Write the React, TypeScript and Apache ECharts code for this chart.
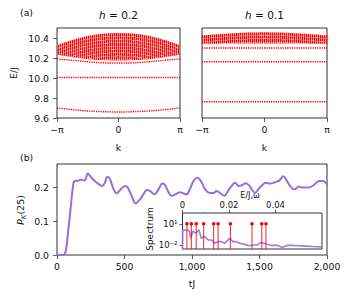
import React, { useEffect, useRef } from "react";
import * as echarts from "echarts";

const PI = Math.PI;

// ---- panel (a): band structure, k in units of pi ----
const kFrac = [-1, -0.875, -0.75, -0.625, -0.5, -0.375, -0.25, -0.125, 0, 0.125, 0.25, 0.375, 0.5, 0.625, 0.75, 0.875, 1];

// h = 0.2
const bandUpper02 = [10.326, 10.355, 10.38, 10.402, 10.42, 10.433, 10.443, 10.448, 10.45, 10.448, 10.443, 10.433, 10.42, 10.402, 10.38, 10.355, 10.326];
const bandLower02 = [10.233, 10.22, 10.208, 10.197, 10.188, 10.182, 10.178, 10.176, 10.175, 10.176, 10.178, 10.182, 10.188, 10.197, 10.208, 10.22, 10.233];
const levelA02 = [10.19, 10.184, 10.177, 10.17, 10.162, 10.156, 10.152, 10.15, 10.15, 10.15, 10.152, 10.156, 10.162, 10.17, 10.177, 10.184, 10.19];
const levelB02 = [10.005, 10.005, 10.005, 10.005, 10.005, 10.005, 10.005, 10.005, 10.005, 10.005, 10.005, 10.005, 10.005, 10.005, 10.005, 10.005, 10.005];
const levelC02 = [9.7, 9.692, 9.683, 9.676, 9.67, 9.666, 9.663, 9.661, 9.66, 9.661, 9.663, 9.666, 9.67, 9.676, 9.683, 9.692, 9.7];

// h = 0.1
const bandUpper01 = [10.426, 10.432, 10.438, 10.443, 10.448, 10.452, 10.455, 10.456, 10.457, 10.456, 10.455, 10.452, 10.448, 10.443, 10.438, 10.432, 10.426];
const bandLower01 = [10.343, 10.343, 10.343, 10.343, 10.344, 10.344, 10.344, 10.344, 10.344, 10.344, 10.344, 10.344, 10.344, 10.343, 10.343, 10.343, 10.343];
const levelA01 = [10.3, 10.3, 10.3, 10.3, 10.3, 10.3, 10.3, 10.3, 10.3, 10.3, 10.3, 10.3, 10.3, 10.3, 10.3, 10.3, 10.3];
const levelB01 = [10.163, 10.163, 10.163, 10.163, 10.163, 10.163, 10.163, 10.163, 10.163, 10.163, 10.163, 10.163, 10.163, 10.163, 10.163, 10.163, 10.163];
const levelC01 = [9.763, 9.763, 9.763, 9.763, 9.763, 9.763, 9.763, 9.763, 9.763, 9.763, 9.763, 9.763, 9.763, 9.763, 9.763, 9.763, 9.763];

const energyTicks = [9.6, 9.8, 10.0, 10.2, 10.4];

// ---- panel (b): P_K(25) vs tJ ----
const tValues = [0, 45, 60, 72, 84, 96, 106, 116, 128, 160, 180, 197, 212, 228, 246, 270, 306, 333, 352, 373, 393, 417, 442, 467, 504, 524, 548, 583, 615, 640, 664, 689, 721, 750, 780, 800, 825, 849, 879, 911, 935, 960, 985, 1010, 1040, 1072, 1100, 1133, 1158, 1183, 1210, 1240, 1270, 1300, 1320, 1345, 1370, 1395, 1420, 1442, 1467, 1495, 1520, 1545, 1580, 1615, 1650, 1676, 1700, 1735, 1763, 1790, 1815, 1862, 1900, 1936, 1965, 2000];
const pValues = [0, 0, 0.005, 0.03, 0.075, 0.12, 0.16, 0.195, 0.219, 0.221, 0.224, 0.221, 0.225, 0.242, 0.234, 0.223, 0.211, 0.205, 0.212, 0.232, 0.225, 0.197, 0.183, 0.193, 0.205, 0.2, 0.18, 0.153, 0.165, 0.18, 0.193, 0.19, 0.18, 0.193, 0.212, 0.208, 0.187, 0.175, 0.18, 0.186, 0.183, 0.18, 0.196, 0.219, 0.229, 0.215, 0.193, 0.184, 0.184, 0.19, 0.183, 0.176, 0.192, 0.208, 0.214, 0.205, 0.207, 0.213, 0.208, 0.195, 0.184, 0.197, 0.207, 0.214, 0.212, 0.216, 0.222, 0.234, 0.222, 0.2, 0.195, 0.203, 0.2, 0.2, 0.207, 0.219, 0.22, 0.21];
const tTicks = [0, 500, 1000, 1500, 2000];
const pTicks = [0, 0.1, 0.2];

// ---- inset: spectrum (log10 of value) ----
const omegaValues = [0, 0.0001, 0.0009, 0.002, 0.0031, 0.0035, 0.0045, 0.0059, 0.007, 0.0081, 0.0095, 0.011, 0.0124, 0.0138, 0.0153, 0.0167, 0.0181, 0.0196, 0.0203, 0.0217, 0.0231, 0.0246, 0.0267, 0.0289, 0.0303, 0.032, 0.0335, 0.035, 0.038, 0.041, 0.0427, 0.045, 0.047, 0.05, 0.053, 0.056, 0.06];
const spectrumLog10 = [-3, 0.19, 0.1, 0.1, -0.05, -1.0, -0.05, -0.3, 0.19, -1.0, -0.76, -1.24, -1.24, -1.71, -1.48, -1.48, -1.71, -1.24, -1.0, -1.48, -1.48, -1.71, -1.86, -2.05, -1.95, -1.95, -1.62, -1.7, -2.0, -2.0, -2.3, -2.0, -2.0, -2.05, -2.1, -2.15, -2.2];
const levelEnergies = [0.0019, 0.0038, 0.0059, 0.0091, 0.0134, 0.0153, 0.0206, 0.0299, 0.0341, 0.0359];
const levelMarkLog10 = [1, 1, 1, 1, 1, 1, 1, 1, 1, 1];
const omegaTicks = [0, 0.02, 0.04];
const spectrumTicks = [-2, 1];

const RED = "#ff0000";
const PURPLE = "#9370db";
const FRAME = "#333333";
const FONT = "DejaVu Sans";

const kRad = kFrac.map((f) => f * PI);
const zip = (xs: number[], ys: number[]) => xs.map((x, i) => [x, ys[i]]);

function bandSeries(idx: number, lo: number[], hi: number[]) {
  return {
    type: "custom",
    xAxisIndex: idx,
    yAxisIndex: idx,
    data: kRad.map((k, i) => [k, lo[i], hi[i]]),
    encode: { x: 0, y: [1, 2] },
    renderItem: (params: any, api: any) => {
      const i = params.dataIndex;
      if (i >= kRad.length - 1) return null;
      const a = api.coord([kRad[i], hi[i]]);
      const b = api.coord([kRad[i + 1], hi[i + 1]]);
      const c = api.coord([kRad[i + 1], lo[i + 1]]);
      const d = api.coord([kRad[i], lo[i]]);
      const x0 = a[0];
      const x1 = b[0];
      const pitch = 2;
      const children: any[] = [];
      const last = i === kRad.length - 2;
      let p = Math.ceil((x0 - 0.5) / pitch) * pitch + 0.5;
      while (p < x1 || (last && p <= x1 + 0.01)) {
        const t = Math.min(1, Math.max(0, (p - x0) / (x1 - x0)));
        const yt = a[1] + (b[1] - a[1]) * t;
        const yb = d[1] + (c[1] - d[1]) * t;
        children.push({
          type: "line",
          shape: { x1: p, y1: yt, x2: p, y2: yb },
          style: { stroke: RED, lineWidth: 1.5, lineDash: [3, 0.3] },
        });
        p += pitch;
      }
      return { type: "group", children };
    },
  };
}

function levelSeries(idx: number, ys: number[]) {
  return {
    type: "line",
    xAxisIndex: idx,
    yAxisIndex: idx,
    data: zip(kRad, ys),
    symbol: "none",
    smooth: true,
    lineStyle: { color: RED, width: 1.4, type: [1.3, 1.0] },
  };
}

const piLabel = (v: number) => (Math.abs(v) < 1e-9 ? "0" : v < 0 ? "−π" : "π");

function kAxis(idx: number) {
  return {
    gridIndex: idx,
    type: "value",
    min: -PI,
    max: PI,
    axisLine: { show: false, onZero: false },
    splitLine: { show: false },
    axisTick: { show: true, length: 4, customValues: [-PI, 0, PI], lineStyle: { color: FRAME, width: 0.8 } },
    axisLabel: { customValues: [-PI, 0, PI], formatter: piLabel, fontSize: 9.3, color: "#111", margin: 7, fontFamily: FONT },
  };
}

function eAxis(idx: number, labels: boolean) {
  return {
    gridIndex: idx,
    type: "value",
    min: 9.6,
    max: 10.5,
    axisLine: { show: false, onZero: false },
    splitLine: { show: false },
    axisTick: { show: labels, length: 4, customValues: energyTicks, lineStyle: { color: FRAME, width: 0.8 } },
    axisLabel: { show: labels, customValues: energyTicks, formatter: (v: number) => v.toFixed(1), fontSize: 9.3, color: "#111", margin: 8, fontFamily: FONT },
  };
}

export default function App() {
  const ref = useRef<HTMLDivElement>(null);
  useEffect(() => {
    if (!ref.current) return;
    const chart = echarts.init(ref.current, undefined, { renderer: "svg" });
    const gridBase = { show: true, borderColor: FRAME, borderWidth: 1, backgroundColor: "#fff", containLabel: false };
    const option: any = {
      animation: false,
      textStyle: { fontFamily: FONT },
      grid: [
        { ...gridBase, left: 57, top: 28, width: 123, height: 90 },
        { ...gridBase, left: 202, top: 28, width: 125, height: 90 },
        { ...gridBase, left: 57, top: 164, width: 270, height: 91 },
        { ...gridBase, left: 182.5, top: 213, width: 139.5, height: 36, z: 5 },
      ],
      xAxis: [
        kAxis(0),
        kAxis(1),
        {
          gridIndex: 2,
          type: "value",
          min: 0,
          max: 2000,
          interval: 500,
          axisLine: { show: false, onZero: false },
          splitLine: { show: false },
          axisTick: { show: true, length: 4, customValues: tTicks, lineStyle: { color: FRAME, width: 0.8 } },
          axisLabel: { customValues: tTicks, fontSize: 9.3, color: "#111", margin: 7, fontFamily: FONT },
        },
        {
          gridIndex: 3,
          type: "value",
          position: "top",
          min: 0,
          max: 0.06,
          axisLine: { show: false, onZero: false },
          splitLine: { show: false },
          axisTick: { show: true, length: 3, customValues: omegaTicks, lineStyle: { color: FRAME, width: 0.8 } },
          axisLabel: {
            customValues: omegaTicks,
            formatter: (v: number) => (v === 0 ? "0" : v.toFixed(2)),
            fontSize: 8.5,
            color: "#111",
            margin: 4,
            fontFamily: FONT,
          },
        },
      ],
      yAxis: [
        eAxis(0, true),
        eAxis(1, false),
        {
          gridIndex: 2,
          type: "value",
          min: 0,
          max: 0.27,
          axisLine: { show: false, onZero: false },
          splitLine: { show: false },
          axisTick: { show: true, length: 4, customValues: pTicks, lineStyle: { color: FRAME, width: 0.8 } },
          axisLabel: { customValues: pTicks, formatter: (v: number) => v.toFixed(1), fontSize: 9.3, color: "#111", margin: 8, fontFamily: FONT },
        },
        {
          gridIndex: 3,
          type: "value",
          min: -2.5,
          max: 2.5,
          axisLine: { show: false, onZero: false },
          splitLine: { show: false },
          axisTick: { show: true, length: 3, customValues: spectrumTicks, lineStyle: { color: FRAME, width: 0.8 } },
          axisLabel: {
            customValues: spectrumTicks,
            formatter: (v: number) => (v === 1 ? "10¹" : "10⁻²"),
            fontSize: 8.5,
            color: "#111",
            margin: 5,
            fontFamily: FONT,
          },
        },
      ],
      series: [
        bandSeries(0, bandLower02, bandUpper02),
        levelSeries(0, levelA02),
        levelSeries(0, levelB02),
        levelSeries(0, levelC02),
        bandSeries(1, bandLower01, bandUpper01),
        levelSeries(1, levelA01),
        levelSeries(1, levelB01),
        levelSeries(1, levelC01),
        {
          type: "line",
          xAxisIndex: 2,
          yAxisIndex: 2,
          data: zip(tValues, pValues),
          symbol: "none",
          smooth: 0.35,
          lineStyle: { color: PURPLE, width: 2 },
        },
        {
          type: "line",
          xAxisIndex: 3,
          yAxisIndex: 3,
          data: zip(omegaValues, spectrumLog10),
          symbol: "none",
          clip: true,
          z: 6,
          lineStyle: { color: PURPLE, width: 1.6, opacity: 0.9 },
        },
        {
          type: "custom",
          xAxisIndex: 3,
          yAxisIndex: 3,
          z: 7,
          data: zip(levelEnergies, levelMarkLog10),
          encode: { x: 0, y: 1 },
          renderItem: (params: any, api: any) => {
            const x = api.value(0);
            const y = api.value(1);
            const top = api.coord([x, y]);
            const bottom = api.coord([x, -2.5]);
            return {
              type: "group",
              children: [
                { type: "line", shape: { x1: top[0], y1: top[1], x2: bottom[0], y2: bottom[1] }, style: { stroke: RED, lineWidth: 1, opacity: 0.85 } },
                { type: "circle", shape: { cx: top[0], cy: top[1], r: 1.8 }, style: { fill: RED } },
              ],
            };
          },
        },
      ],
      graphic: [
        { type: "text", x: 20, y: 12, style: { text: "(a)", fontSize: 9.3, fill: "#111", fontFamily: FONT, align: "left", verticalAlign: "middle" } },
        {
          type: "text",
          x: 118.5,
          y: 15,
          style: {
            text: "{i|h} = 0.2",
            fontSize: 10.5,
            fill: "#111",
            fontFamily: FONT,
            align: "center",
            verticalAlign: "middle",
            rich: { i: { fontStyle: "italic", fontSize: 10.5, fontFamily: FONT, fill: "#111" } },
          },
        },
        {
          type: "text",
          x: 264.5,
          y: 15,
          style: {
            text: "{i|h} = 0.1",
            fontSize: 10.5,
            fill: "#111",
            fontFamily: FONT,
            align: "center",
            verticalAlign: "middle",
            rich: { i: { fontStyle: "italic", fontSize: 10.5, fontFamily: FONT, fill: "#111" } },
          },
        },
        { type: "text", x: 118.5, y: 147, style: { text: "k", fontSize: 9.3, fill: "#111", fontFamily: FONT, align: "center", verticalAlign: "middle" } },
        { type: "text", x: 264.5, y: 147, style: { text: "k", fontSize: 9.3, fill: "#111", fontFamily: FONT, align: "center", verticalAlign: "middle" } },
        { type: "text", x: 13, y: 73, rotation: PI / 2, style: { text: "E/J", fontSize: 9.3, fill: "#111", fontFamily: FONT, align: "center", verticalAlign: "middle" } },
        { type: "text", x: 20, y: 157, style: { text: "(b)", fontSize: 9.3, fill: "#111", fontFamily: FONT, align: "left", verticalAlign: "middle" } },
        {
          type: "text",
          x: 20,
          y: 210,
          rotation: PI / 2,
          style: {
            text: "{i|P}{s|K}{n|(25)}",
            fill: "#111",
            fontFamily: FONT,
            align: "center",
            verticalAlign: "middle",
            rich: {
              i: { fontStyle: "italic", fontSize: 9.5, fontFamily: FONT, fill: "#111", lineHeight: 14, verticalAlign: "middle" },
              s: { fontStyle: "italic", fontSize: 7, fontFamily: FONT, fill: "#111", lineHeight: 14, verticalAlign: "bottom" },
              n: { fontSize: 9.5, fontFamily: FONT, fill: "#111", lineHeight: 14, verticalAlign: "middle" },
            },
          },
        },
        { type: "text", x: 192, y: 283, style: { text: "tJ", fontSize: 9.3, fill: "#111", fontFamily: FONT, align: "center", verticalAlign: "middle" } },
        { type: "text", x: 150, y: 229, rotation: PI / 2, style: { text: "Spectrum", fontSize: 9, fill: "#111", fontFamily: FONT, align: "center", verticalAlign: "middle" } },
        { type: "text", x: 250, y: 195, style: { text: "E/J,ω", fontSize: 8, fill: "#111", fontFamily: FONT, align: "center", verticalAlign: "middle" } },
      ],
    };
    chart.setOption(option);
    return () => chart.dispose();
  }, []);
  return <div ref={ref} style={{ position: "fixed", left: 0, top: 0, width: 350, height: 300, background: "#fff" }} />;
}
